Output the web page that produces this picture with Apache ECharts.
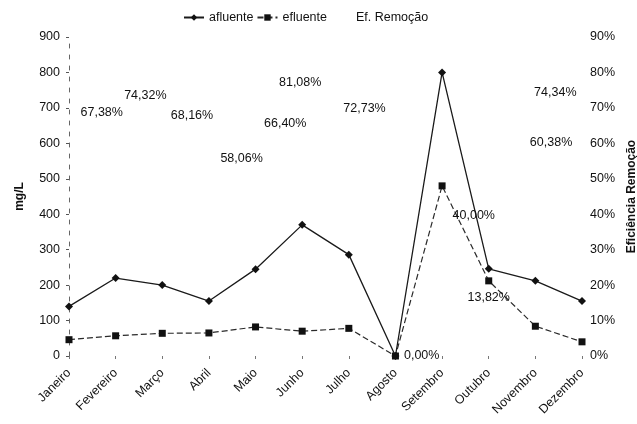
<!DOCTYPE html>
<html>
<head>
<meta charset="utf-8">
<script src="https://cdn.jsdelivr.net/npm/echarts@6/dist/echarts.min.js"></script>
<style>
  html, body { margin: 0; padding: 0; background: #fff; }
  #chart { width: 637px; height: 424px; }
</style>
</head>
<body>
<div id="chart"></div>
<script>
// Monthly concentrations (mg/L) and removal efficiency (%)
const meses = ['Janeiro', 'Fevereiro', 'Março', 'Abril', 'Maio', 'Junho',
  'Julho', 'Agosto', 'Setembro', 'Outubro', 'Novembro', 'Dezembro'];
const afluente = [140, 220, 200, 155, 245, 370, 286, 0, 800, 246, 212, 155];
const efluente = [46, 57, 64, 65, 82, 70, 78, 0, 480, 212, 84, 40];
const eficiencia = [67.38, 74.32, 68.16, 58.06, 66.40, 81.08, 72.73, 0.00, 40.00, 13.82, 60.38, 74.34];
const mgTicks = { min: 0, max: 900, step: 100 };
const pctTicks = { min: 0, max: 90, step: 10 };

// Where each efficiency label sits relative to its point
const labelPlacement = [
  { position: 'right', offset: [6, -5] },
  { position: 'right', offset: [3, 3] },
  { position: 'right', offset: [3, 1] },
  { position: 'right', offset: [6, 8] },
  { position: 'right', offset: [3, 3] },
  { position: 'bottom', offset: [-2, 2] },
  { position: 'right', offset: [-11, 10] },
  { position: 'right', offset: [3, 0] },
  { position: 'right', offset: [5, 1] },
  { position: 'top', offset: [0, 3] },
  { position: 'right', offset: [-11, 1] },
  { position: 'left', offset: [0, 0] }
];

const FONT = 'Liberation Sans, Arial, sans-serif';
const FS = 12.5;

const chart = echarts.init(document.getElementById('chart'), null, { renderer: 'canvas' });

const efData = eficiencia.map((v, i) => ({
  value: v,
  label: Object.assign({}, labelPlacement[i])
}));

chart.setOption({
  animation: false,
  backgroundColor: '#fff',
  textStyle: { fontFamily: FONT, color: '#111' },
  legend: {
    top: 6,
    left: 178,
    itemGap: 3,
    itemWidth: 20,
    itemHeight: 8,
    textStyle: { fontFamily: FONT, fontSize: FS, color: '#111' },
    data: [
      { name: 'afluente' },
      { name: 'efluente' },
      { name: 'Ef. Remoção', itemStyle: { opacity: 0 }, lineStyle: { opacity: 0 } }
    ]
  },
  grid: { left: 69, right: 55, top: 37, bottom: 68, containLabel: false, outerBoundsMode: 'none' },
  xAxis: {
    type: 'category',
    data: meses,
    boundaryGap: false,
    axisLine: { show: false },
    axisTick: { show: true, alignWithLabel: true, length: 3, lineStyle: { color: '#777' } },
    axisLabel: { rotate: 45, margin: 15, fontFamily: FONT, fontSize: FS, color: '#111', interval: 0 },
    splitLine: { show: false }
  },
  yAxis: [
    {
      type: 'value',
      name: 'mg/L',
      nameLocation: 'middle',
      nameGap: 43,
      nameRotate: 90,
      nameTextStyle: { fontFamily: FONT, fontSize: 12, fontWeight: 'bold', color: '#111' },
      min: mgTicks.min, max: mgTicks.max, interval: mgTicks.step,
      axisLine: { show: true, lineStyle: { color: '#666', width: 1, type: [4, 7] } },
      axisTick: { show: true, length: 3, lineStyle: { color: '#555' } },
      axisLabel: { fontFamily: FONT, fontSize: FS, color: '#111', margin: 9 },
      splitLine: { show: false }
    },
    {
      type: 'value',
      name: 'Eficiência Remoção',
      nameLocation: 'middle',
      nameGap: 35,
      nameRotate: 90,
      nameTextStyle: { fontFamily: FONT, fontSize: 12, fontWeight: 'bold', color: '#111' },
      min: pctTicks.min, max: pctTicks.max, interval: pctTicks.step,
      axisLine: { show: false },
      axisTick: { show: false },
      axisLabel: { fontFamily: FONT, fontSize: FS, color: '#111', margin: 8, formatter: '{value}%' },
      splitLine: { show: false }
    }
  ],
  series: [
    {
      name: 'afluente',
      type: 'line',
      data: afluente,
      symbol: 'diamond',
      symbolSize: 8,
      itemStyle: { color: '#111' },
      lineStyle: { color: '#1a1a1a', width: 1.3 },
      z: 3
    },
    {
      name: 'efluente',
      type: 'line',
      data: efluente,
      symbol: 'rect',
      symbolSize: 7,
      itemStyle: { color: '#111' },
      lineStyle: { color: '#2a2a2a', width: 1.2, type: [6, 3] },
      z: 3
    },
    {
      name: 'Ef. Remoção',
      type: 'line',
      yAxisIndex: 1,
      data: efData,
      symbol: 'circle',
      symbolSize: 1,
      showSymbol: true,
      itemStyle: { color: 'rgba(255,255,255,0)' },
      lineStyle: { opacity: 0 },
      label: {
        show: true,
        fontFamily: FONT,
        fontSize: FS,
        color: '#111',
        distance: 5,
        formatter: p => p.value.toFixed(2).replace('.', ',') + '%'
      },
      z: 4
    }
  ]
});
</script>
</body>
</html>
